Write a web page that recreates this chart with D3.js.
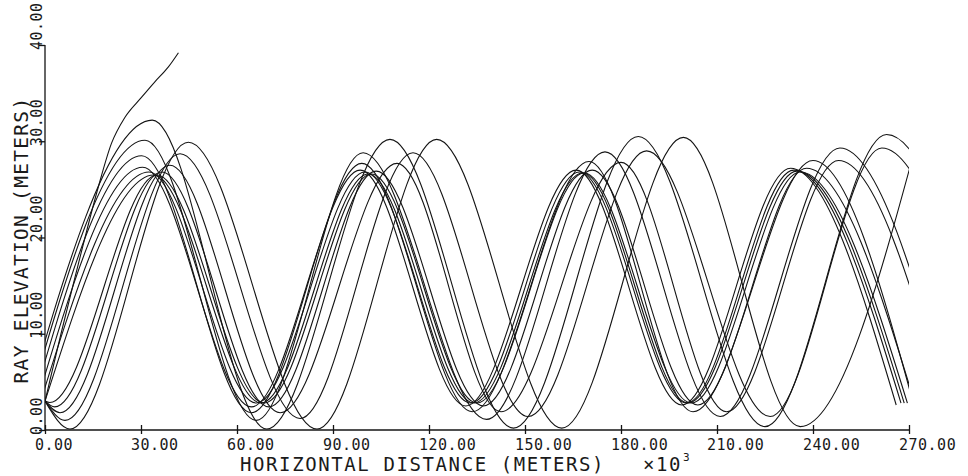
<!DOCTYPE html>
<html><head><meta charset="utf-8">
<script src="https://cdn.jsdelivr.net/npm/d3@7"></script>
<style>
html,body{margin:0;padding:0;background:#fff;}
svg{display:block;}
text{font-family:"DejaVu Sans Mono",monospace;fill:#1a1a1a;}
</style></head>
<body>
<svg id="chart" width="968" height="476"></svg>
<script>
// ---- axis ticks ----
const xTicks = [0, 30, 60, 90, 120, 150, 180, 210, 240, 270];
const yTicks = [0, 10, 20, 30, 40];
const xTickLabels = ["0.00","30.00","60.00","90.00","120.00","150.00","180.00","210.00","240.00","270.00"];
const yTickLabels = ["0.00","10.00","20.00","30.00","40.00"];
const xTitle = "HORIZONTAL DISTANCE (METERS)";
const xScaleNote = "\u00d710";
const xScaleExp = "3";
const yTitle = "RAY ELEVATION (METERS)";

// ---- ray paths: [distance (x10^3 m), elevation (m)] points ----
const rayEscape = [[0,3],[5,10],[10,16.7],[12.5,20],[16.7,25.3],[20.8,29.8],[25,32.5],[30,34.5],[34.4,36.2],[38.5,37.7],[41.7,39.2]];
const rayB = [[-8,0.1],[33.5,32.2],[69.3,0.1],[107.8,30.2],[146.4,0.2],[185.4,30.5],[225,0.35],[263,30.7],[301,0.4]];
const rayC = [[-6.5,1.0],[31.25,30.1],[66,1.0],[99.4,28.8],[138,1.1],[175,28.9],[211,1.4],[248.4,29.3],[284,1.4]];
const rayD = [[-4.7,1.8],[30.2,28.5],[64.5,1.8],[99,27.7],[133.5,1.9],[170,27.9],[202.5,1.9],[240,28],[272,2]];
const rayE = [[-3,2.4],[30.5,27.3],[64.5,2.4],[98.5,27],[131.5,2.5],[166,27],[199,2.6],[233,27.2],[266,2.6]];
const rayK = [[-1.5,2.85],[32.5,26.8],[66,2.8],[100,26.8],[133,2.8],[167,26.8],[200.5,2.8],[234,27],[267.5,2.8]];
const rayJ = [[0,3],[34,26.5],[67.5,2.8],[101,26.6],[134,2.8],[168,26.7],[201,2.8],[235,26.9],[268.5,2.8]];
const rayL = [[0,3],[1.5,2.85],[35,26.5],[68.5,2.8],[102,26.6],[135,2.8],[168.5,26.7],[202,2.8],[236,26.8],[269.5,2.8]];
const rayI = [[0,3],[3,2.4],[36.5,26.8],[70,2.4],[103.5,26.9],[137,2.5],[171,27],[204,2.6],[238,27.2],[272,2.6]];
const rayH = [[0,3],[4.7,1.8],[39,27.5],[73.5,1.8],[110,27.7],[142.5,1.9],[180,27.8],[213,1.9],[248,28],[282,2]];
const rayG = [[0,3],[6.25,1.0],[42.2,28.7],[79.7,1.2],[115,28.8],[151,1.4],[188,29],[226.6,1.4],[261.5,29.3],[298,1.4]];
const rayF = [[0,3],[7.8,0.1],[44.8,29.9],[85,0.1],[122.4,30.2],[161.5,0.2],[199.5,30.4],[236,0.35],[273,30.6]];
const rays = [rayEscape, rayB, rayC, rayD, rayE, rayK, rayJ, rayL, rayI, rayH, rayG, rayF];

// ---- layout ----
const svg = d3.select("#chart");
const x = d3.scaleLinear().domain([0, 270]).range([45, 909]);
const y = d3.scaleLinear().domain([0, 40]).range([430, 45]);

svg.append("rect").attr("width", 968).attr("height", 476).attr("fill", "#fff");

svg.append("clipPath").attr("id", "plotclip")
  .append("rect")
  .attr("x", x(0)).attr("y", 0)
  .attr("width", x(270) - x(0)).attr("height", y(0) + 2);

const line = d3.line()
  .x(d => x(d[0])).y(d => y(d[1]))
  .curve(d3.curveMonotoneX);

svg.append("g").attr("clip-path", "url(#plotclip)")
  .selectAll("path").data(rays).join("path")
  .attr("d", line)
  .attr("fill", "none")
  .attr("stroke", "#141414")
  .attr("stroke-width", 1.1);

// ---- axes ----
const gx1 = svg.append("g").attr("transform", `translate(0,${y(0)})`)
  .call(d3.axisTop(x).tickValues(xTicks).tickSize(5).tickFormat(""));
const gx2 = svg.append("g").attr("transform", `translate(0,${y(0)})`)
  .call(d3.axisBottom(x).tickValues(xTicks).tickSize(4).tickFormat(""));
gx1.select(".domain").attr("d", `M${x(0)},0H${x(270)}`);
gx2.select(".domain").remove();
const gy = svg.append("g").attr("transform", `translate(${x(0)},0)`)
  .call(d3.axisLeft(y).tickValues(yTicks).tickSize(6).tickFormat(""));
gy.select(".domain").attr("d", `M0,${y(0)}V${y(40)}`);
svg.selectAll(".domain, .tick line").attr("stroke", "#141414").attr("stroke-width", 1.3);

// tick labels
svg.append("g").selectAll("text").data(xTicks).join("text")
  .attr("x", d => x(d) - 10).attr("y", 449.5)
  .attr("font-size", 15).attr("letter-spacing", 0.5)
  .text((d, i) => xTickLabels[i]);

svg.append("g").selectAll("text").data(yTicks).join("text")
  .attr("transform", d => `translate(42,${y(d) + 5}) rotate(-90)`)
  .attr("font-size", 15).attr("letter-spacing", 0.5)
  .text((d, i) => yTickLabels[i]);

// titles
svg.append("text").attr("x", 240).attr("y", 471)
  .attr("font-size", 19).attr("letter-spacing", 1.6)
  .text(xTitle);
svg.append("text").attr("x", 643).attr("y", 471)
  .attr("font-size", 19).attr("letter-spacing", 1.6)
  .text(xScaleNote);
svg.append("text").attr("x", 683).attr("y", 461)
  .attr("font-size", 11)
  .text(xScaleExp);

svg.append("text")
  .attr("transform", `translate(28,240) rotate(-90)`)
  .attr("text-anchor", "middle")
  .attr("font-size", 19.5).attr("letter-spacing", 1.3)
  .text(yTitle);
</script>
</body></html>
